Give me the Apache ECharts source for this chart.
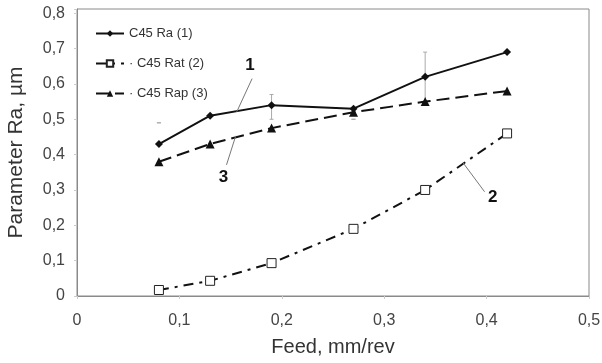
<!DOCTYPE html>
<html><head><meta charset="utf-8">
<script src="https://cdn.jsdelivr.net/npm/echarts@6/dist/echarts.min.js"></script>
<style>html,body{margin:0;padding:0;background:#fff}#c{width:602px;height:363px}</style>
</head><body><div id="c"></div>
<script>
const feed = [0.08, 0.13, 0.19, 0.27, 0.34, 0.42];
const ra  = [0.43, 0.51, 0.54, 0.53, 0.62, 0.69];
const rat = [0.017, 0.043, 0.093, 0.19, 0.30, 0.46];
const rap = [0.38, 0.43, 0.475, 0.52, 0.55, 0.58];
const errX = [0.08, 0.19, 0.27, 0.34];
const errLow = [0.49, 0.50, 0.50, 0.55];
const errHigh = [0.49, 0.57, 0.50, 0.69];
const names = ['C45 Ra (1)', 'C45 Rat (2)', 'C45 Rap (3)'];
const yTicks = [0, 0.1, 0.2, 0.3, 0.4, 0.5, 0.6, 0.7, 0.8];
const xTicks = [0, 0.1, 0.2, 0.3, 0.4, 0.5];
const annotations = [
  {text: '1', at: [0.169, 0.654], from: [0.171, 0.615], to: [0.156, 0.521]},
  {text: '3', at: [0.143, 0.337], from: [0.155, 0.453], to: [0.146, 0.371]},
  {text: '2', at: [0.406, 0.278], from: [0.377, 0.377], to: [0.398, 0.295]}
];

const fmt = v => {
  const r = Math.round(v * 10) / 10;
  if (Math.abs(v - r) > 1e-6) return '';
  return r === 0 ? '0' : r.toFixed(1).replace('.', ',');
};
const pair = (xs, ys) => xs.map((x, i) => [x, ys[i]]);
const F = 'Liberation Sans, Arial, sans-serif';

const chart = echarts.init(document.getElementById('c'), null, {renderer: 'canvas'});
chart.setOption({
  animation: false,
  backgroundColor: '#fff',
  grid: {left: 77, right: 13, top: 9, bottom: 67, show: true, borderColor: '#8a8a8a', borderWidth: 1,
         containLabel: false, outerBoundsMode: 'none'},
  legend: {
    orient: 'vertical', left: 90, top: 22, itemWidth: 28, itemHeight: 8, itemGap: 17,
    textStyle: {fontFamily: F, fontSize: 13, color: '#333'},
    formatter: n => n === names[0] ? n : '· ' + n,
    data: names
  },
  xAxis: {
    type: 'value', min: 0, max: 0.5, interval: 0.1,
    name: 'Feed, mm/rev', nameLocation: 'middle', nameGap: 41,
    nameTextStyle: {fontFamily: F, fontSize: 20, color: '#333'},
    axisLine: {show: true, lineStyle: {color: '#8a8a8a', width: 1}},
    axisTick: {show: true, inside: false, length: 3, lineStyle: {color: '#ccc'}},
    axisLabel: {fontFamily: F, fontSize: 16, color: '#444', margin: 17, formatter: fmt},
    splitLine: {show: false}
  },
  yAxis: {
    type: 'value', min: 0, max: 0.812, interval: 0.1,
    name: 'Parameter Ra, µm', nameLocation: 'middle', nameGap: 50,
    nameTextStyle: {fontFamily: F, fontSize: 21, color: '#333'},
    axisLine: {show: true, lineStyle: {color: '#8a8a8a', width: 1}},
    axisTick: {show: true, length: 3, lineStyle: {color: '#ccc'}},
    axisLabel: {fontFamily: F, fontSize: 16, color: '#444', margin: 12, formatter: fmt},
    splitLine: {show: false}
  },
  series: [
    {
      type: 'custom', name: 'err', silent: true, z: 1,
      data: errX.map((x, i) => [x, errLow[i], errHigh[i]]),
      renderItem: (params, api) => {
        const lo = api.coord([api.value(0), api.value(1)]);
        const hi = api.coord([api.value(0), api.value(2)]);
        const st = {stroke: '#aaa', lineWidth: 1};
        return {type: 'group', children: [
          {type: 'line', shape: {x1: lo[0], y1: lo[1], x2: hi[0], y2: hi[1]}, style: st},
          {type: 'line', shape: {x1: lo[0] - 2, y1: lo[1], x2: lo[0] + 2, y2: lo[1]}, style: st},
          {type: 'line', shape: {x1: hi[0] - 2, y1: hi[1], x2: hi[0] + 2, y2: hi[1]}, style: st}
        ]};
      }
    },
    {
      type: 'line', name: names[0], data: pair(feed, ra), z: 3,
      symbol: 'diamond', symbolSize: 8,
      itemStyle: {color: '#111'}, lineStyle: {color: '#111', width: 2, type: 'solid'}
    },
    {
      type: 'line', name: names[1], data: pair(feed, rat), z: 3,
      symbol: 'rect', symbolSize: 9,
      itemStyle: {color: '#fff', borderColor: '#222', borderWidth: 1},
      lineStyle: {color: '#111', width: 2, type: [10, 6, 3, 6]}
    },
    {
      type: 'line', name: names[2], data: pair(feed, rap), z: 3,
      symbol: 'triangle', symbolSize: 9,
      itemStyle: {color: '#111'}, lineStyle: {color: '#111', width: 2, type: [13, 6]}
    }
  ]
});

const g = [];
annotations.forEach(a => {
  const p = chart.convertToPixel({gridIndex: 0}, a.at);
  const f = chart.convertToPixel({gridIndex: 0}, a.from);
  const t = chart.convertToPixel({gridIndex: 0}, a.to);
  g.push({type: 'line', shape: {x1: f[0], y1: f[1], x2: t[0], y2: t[1]}, style: {stroke: '#777', lineWidth: 1}, z: 10});
  g.push({type: 'text', x: p[0], y: p[1], style: {text: a.text, fontFamily: F, fontSize: 17, fontWeight: 'bold', fill: '#111', align: 'center', verticalAlign: 'middle'}, z: 10});
});
chart.setOption({graphic: g});
</script>
</body></html>
